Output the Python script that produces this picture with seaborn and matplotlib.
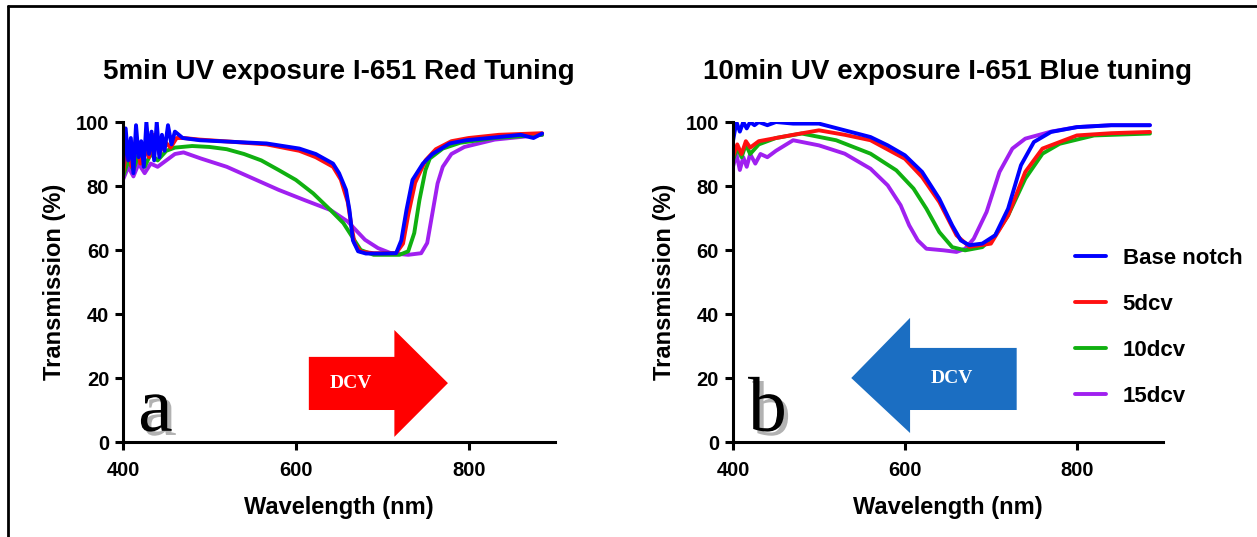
import numpy as np
import pandas as pd
import matplotlib
matplotlib.use("Agg")
import matplotlib.pyplot as plt
import matplotlib.patheffects as pe
from matplotlib.patches import Polygon
from matplotlib.lines import Line2D
import seaborn as sns

# ---------------- data: transmission spectra (%) vs wavelength (nm) ----------------
series_names = ["Base notch", "5dcv", "10dcv", "15dcv"]
series_colors = {"Base notch": "#0000FF", "5dcv": "#FF1010", "10dcv": "#10B010", "15dcv": "#A020F0"}

# Panel a: 5 min UV exposure, red tuning
a_base_wl = [400, 403, 406, 409, 412, 415, 418, 421, 424, 427, 430, 433, 436, 439, 442, 445, 448, 452,
             456, 460, 469, 489, 527, 566, 604, 623, 643, 650, 658, 662, 666, 672, 681, 700, 716, 722,
             728, 735, 747, 758, 778, 797, 835, 860, 875, 885]
a_base_tr = [86, 98, 88, 95, 84, 99, 89, 94, 86, 100, 90, 97, 88, 100, 89, 96, 91, 99,
             93, 97, 95, 94.3, 93.8, 93.3, 91.7, 90, 87, 84, 78.8, 72.5, 63, 59.6, 58.9, 58.9, 59, 63,
             72.5, 81.9, 87, 90, 93.3, 94.3, 95.3, 96, 95, 96.4]

a_5_wl = [400, 405, 410, 415, 420, 425, 430, 436, 442, 448, 455, 462, 470, 489, 527, 566, 604, 623,
          643, 652, 660, 664, 668, 675, 690, 716, 724, 730, 738, 750, 762, 780, 800, 835, 885]
a_5_tr = [84, 93, 86, 95, 87, 92, 89, 96, 90, 94, 92, 95, 95, 94.5, 93.8, 93, 91, 89,
          86, 82, 75, 68, 62, 59.5, 59, 59, 62, 71, 81, 88, 91.5, 94, 95, 96, 96.5]

a_10_wl = [400, 406, 412, 418, 425, 432, 440, 450, 460, 480, 500, 520, 540, 560, 580, 600, 620, 640,
           655, 665, 675, 690, 720, 730, 737, 743, 750, 755, 770, 790, 830, 885]
a_10_tr = [83, 88, 85, 90, 86, 90, 88, 91, 92, 92.5, 92.2, 91.5, 90, 88, 85, 81.9, 77.7, 72.5,
           68.4, 64.2, 60, 58.5, 58.5, 59.6, 65.3, 75.6, 85, 88.6, 91.7, 93.5, 95, 96]

a_15_wl = [400, 406, 412, 418, 425, 432, 440, 450, 460, 470, 490, 520, 550, 580, 610, 640, 660, 680,
           695, 710, 730, 745, 752, 758, 764, 770, 780, 795, 830, 885]
a_15_tr = [82, 86, 83, 87, 84, 87, 86, 88, 90, 90.5, 88.6, 86, 82.4, 78.8, 75.6, 72.5, 68.9, 63.2,
           60.6, 59, 58.5, 59, 62.2, 71.5, 80.8, 86, 90, 92.2, 94.5, 96]

# Panel b: 10 min UV exposure, blue tuning
b_base_wl = [400, 404, 408, 412, 416, 420, 425, 430, 440, 450, 470, 500, 530, 560, 580, 600, 620, 640,
             655, 665, 675, 690, 705, 720, 735, 750, 770, 800, 840, 885]
b_base_tr = [94, 100, 97, 100, 98, 100, 99, 100, 99, 100, 99.5, 99.5, 97.4, 95.3, 92.7, 89.6, 84.4, 76,
             67.7, 63, 61.5, 62, 64.6, 72.9, 86.5, 93.75, 96.9, 98.4, 99, 99]

b_5_wl = [400, 405, 410, 415, 420, 430, 440, 450, 470, 500, 530, 560, 600, 620, 640, 660, 675, 700,
          720, 740, 760, 800, 840, 885]
b_5_tr = [89, 93, 90, 94, 92, 94, 94.5, 95, 96, 97.4, 96, 94.3, 88.5, 82.8, 75, 64.6, 61, 62,
          70.8, 84.4, 91.7, 95.8, 96.5, 96.9]

b_10_wl = [400, 405, 410, 415, 420, 430, 440, 450, 480, 520, 560, 590, 610, 625, 640, 655, 670, 690,
           705, 720, 740, 760, 780, 820, 885]
b_10_tr = [88, 92, 89, 93, 90, 93, 94, 95, 96.4, 94.3, 90.1, 84.9, 79.2, 72.9, 65.6, 60.9, 59.9, 60.9,
           64.6, 70.8, 82.3, 90.1, 93.2, 95.8, 96.4]

b_15_wl = [400, 404, 408, 412, 416, 420, 426, 432, 440, 450, 470, 500, 530, 560, 580, 595, 605, 615,
           625, 645, 660, 670, 680, 695, 710, 725, 740, 770, 800, 840, 885]
b_15_tr = [86, 90, 85, 89, 86, 90, 87, 90, 89, 91, 94.3, 92.7, 90.1, 85.4, 80.2, 74, 67.7, 63,
           60.4, 59.9, 59.4, 60.4, 63.5, 71.9, 84.4, 91.7, 94.8, 97, 98.4, 99, 99]

panel_titles = ["5min UV exposure I-651 Red Tuning", "10min UV exposure I-651 Blue tuning"]
panel_letters = ["a", "b"]
x_ticks = [400, 600, 800]
y_ticks = [0, 20, 40, 60, 80, 100]


def long_frame(parts):
    frames = []
    for name, wl, tr in parts:
        frames.append(pd.DataFrame({"Wavelength": wl, "Transmission": tr, "Series": name}))
    return pd.concat(frames, ignore_index=True)


df_a = long_frame([("Base notch", a_base_wl, a_base_tr), ("5dcv", a_5_wl, a_5_tr),
                   ("10dcv", a_10_wl, a_10_tr), ("15dcv", a_15_wl, a_15_tr)])
df_b = long_frame([("Base notch", b_base_wl, b_base_tr), ("5dcv", b_5_wl, b_5_tr),
                   ("10dcv", b_10_wl, b_10_tr), ("15dcv", b_15_wl, b_15_tr)])

# ---------------- figure ----------------
sns.set_theme(style="ticks")
plt.rcParams["font.family"] = ["Liberation Sans", "DejaVu Sans"]
plt.rcParams["text.color"] = "black"
plt.rcParams["axes.labelcolor"] = "black"
plt.rcParams["xtick.color"] = "black"
plt.rcParams["ytick.color"] = "black"

fig = plt.figure(figsize=(12.57, 5.37), dpi=100)
fig.patch.set_facecolor("white")
ax_a = fig.add_axes([0.0979, 0.1769, 0.3437, 0.5959])
ax_b = fig.add_axes([0.5831, 0.1769, 0.3420, 0.5959])

draw_order = ["15dcv", "10dcv", "5dcv", "Base notch"]

for ax, df, title, letter in [(ax_a, df_a, panel_titles[0], panel_letters[0]),
                              (ax_b, df_b, panel_titles[1], panel_letters[1])]:
    for name in draw_order:
        sub = df[df["Series"] == name]
        sns.lineplot(data=sub, x="Wavelength", y="Transmission", color=series_colors[name],
                     linewidth=2.8, ax=ax, estimator=None, sort=False, legend=False)
    ax.set_xlim(400, 900)
    ax.set_ylim(0, 100)
    ax.set_xticks(x_ticks)
    ax.set_yticks(y_ticks)
    ax.set_xlabel("Wavelength (nm)", fontsize=17, fontweight="bold", labelpad=11, color="black")
    ax.set_ylabel("Transmission (%)", fontsize=17, fontweight="bold", labelpad=7, color="black")
    ax.set_title(title, fontsize=20, fontweight="bold", pad=31, color="black")
    for side in ["top", "right"]:
        ax.spines[side].set_visible(False)
    for side in ["left", "bottom"]:
        ax.spines[side].set_linewidth(2.2)
        ax.spines[side].set_color("black")
    ax.tick_params(axis="both", direction="out", length=6, width=2.2, colors="black",
                   labelsize=14.5)
    ax.tick_params(axis="x", pad=8)
    ax.tick_params(axis="y", pad=4)
    for lab in ax.get_xticklabels() + ax.get_yticklabels():
        lab.set_fontweight("bold")
    ax.text(0.035, 0.035, letter, transform=ax.transAxes, fontsize=56,
            family=["Liberation Serif", "DejaVu Serif"], color="black", ha="left", va="baseline",
            path_effects=[pe.withSimplePatchShadow(offset=(3, -3), shadow_rgbFace="gray", alpha=0.6)])

# direction arrows
red_arrow = [(615, 10), (714, 10), (714, 1.6), (776, 18.4), (714, 35), (714, 26.6), (615, 26.6)]
ax_a.add_patch(Polygon(red_arrow, closed=True, facecolor="#FF0000", edgecolor="none", zorder=1))
ax_a.text(664, 18.4, "DCV", ha="center", va="center", color="white", fontsize=14, fontweight="bold",
          family=["Liberation Serif", "DejaVu Serif"], zorder=2)

blue_arrow = [(730, 10), (606, 10), (606, 2.8), (537.6, 20), (606, 38.8), (606, 29.4), (730, 29.4)]
ax_b.add_patch(Polygon(blue_arrow, closed=True, facecolor="#1B6EC2", edgecolor="none", zorder=1))
ax_b.text(655, 20, "DCV", ha="center", va="center", color="white", fontsize=14, fontweight="bold",
          family=["Liberation Serif", "DejaVu Serif"], zorder=2)

# legend beside panel b
handles = [Line2D([0], [0], color=series_colors[n], linewidth=2.8) for n in series_names]
fig.legend(handles, series_names, loc="upper left", bbox_to_anchor=(1075 / 1257, 1 - 248 / 537),
           frameon=False, borderpad=0, borderaxespad=0, handlelength=1.4, handletextpad=0.75,
           labelspacing=1.12, labelcolor="black",
           prop={"family": ["Liberation Sans", "DejaVu Sans"], "weight": "bold", "size": 16})

# outer frame lines
fig.add_artist(Line2D([0.0064, 0.0064], [0, 0.989], color="black", linewidth=2, transform=fig.transFigure))
fig.add_artist(Line2D([0.0064, 1.0], [0.989, 0.989], color="black", linewidth=2, transform=fig.transFigure))

fig.savefig("out.png", dpi=100, facecolor="white")
